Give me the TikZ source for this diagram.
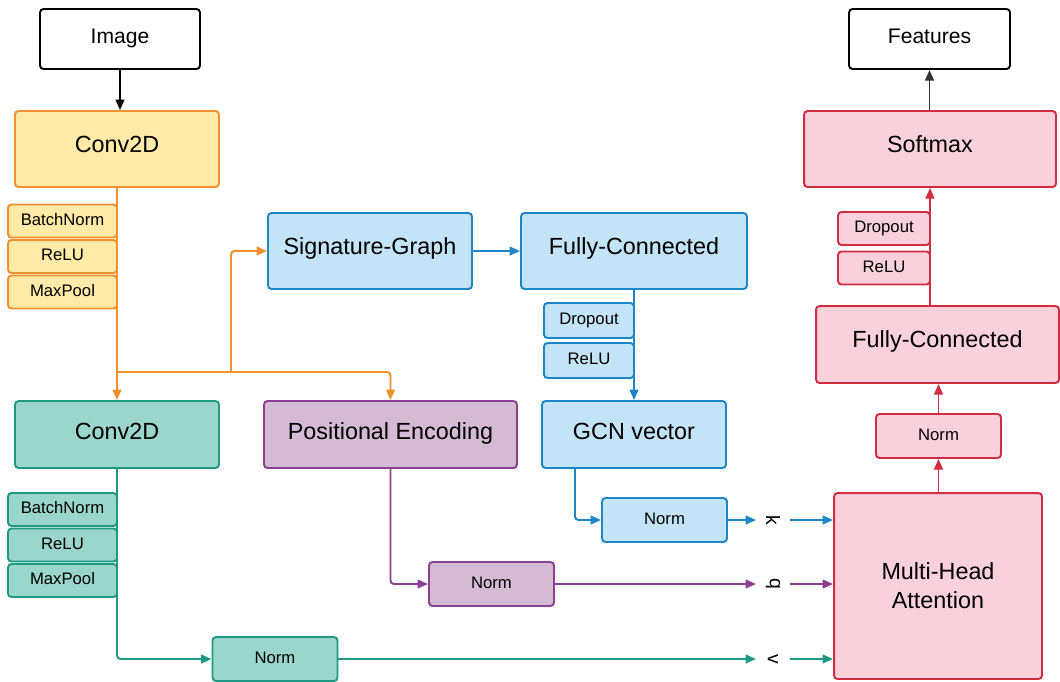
\documentclass[tikz,border=0pt]{standalone}
\usepackage{fontspec}
\setmainfont{Liberation Sans}
\usepackage{graphicx}
\usetikzlibrary{arrows.meta,positioning}

\definecolor{orangeline}{HTML}{F2902C}
\definecolor{yellowfill}{HTML}{FFEAA7}
\definecolor{tealline}{HTML}{1F9A82}
\definecolor{tealfill}{HTML}{9AD6CB}
\definecolor{blueline}{HTML}{1D86C6}
\definecolor{bluefill}{HTML}{C3E4F6}
\definecolor{purpleline}{HTML}{8C3E8F}
\definecolor{purplefill}{HTML}{D4BAD3}
\definecolor{redline}{HTML}{D12C42}
\definecolor{redfill}{HTML}{F8D1DC}

\begin{document}
\begin{tikzpicture}[x=0.02cm,y=-0.02cm,node distance=0.71cm,>={Triangle[length=6pt,width=5pt]},line width=1.1pt]
  \tikzstyle{block}=[rectangle,rounded corners=2pt,line width=1.1pt,inner sep=0pt,align=center,text height=0.72em,text depth=0.34em,font=\fontsize{13.3}{16.5}\selectfont]
  \tikzstyle{flat}=[text depth=0.14em]
  \tikzstyle{io}=[block,draw=black,fill=white,minimum height=1.2cm,text depth=0.26em,font=\fontsize{12}{14}\selectfont]
  \tikzstyle{layer}=[block,minimum width=2.18cm,minimum height=0.66cm,text depth=0.22em,font=\fontsize{9.5}{11}\selectfont]
  \tikzstyle{norm}=[layer,minimum width=2.5cm,minimum height=0.88cm]
  \tikzstyle{yel}=[draw=orangeline,fill=yellowfill]
  \tikzstyle{teal}=[draw=tealline,fill=tealfill]
  \tikzstyle{blu}=[draw=blueline,fill=bluefill]
  \tikzstyle{pur}=[draw=purpleline,fill=purplefill]
  \tikzstyle{red}=[draw=redline,fill=redfill]
  \tikzstyle{key}=[inner sep=0pt,minimum width=0.64cm,font=\fontsize{11}{13}\selectfont]

  \useasboundingbox (0,0) rectangle (1060,681);

  % input branch
  \node [io] (image) at (120,39) [minimum width=3.2cm] {Image};
  \node [block,yel] (conva) at (117,149) [minimum width=4.08cm,minimum height=1.52cm] {Conv2D};
  \node [layer,yel] (bna) at (62.5,221) {BatchNorm};
  \node [layer,yel] (relua) [below of=bna] {ReLU};
  \node [layer,yel] (poola) [below of=relua] {MaxPool};

  \node [block,flat,teal] (convb) at (117,434.5) [minimum width=4.08cm,minimum height=1.34cm] {Conv2D};
  \node [layer,teal] (bnb) at (62.5,509.5) {BatchNorm};
  \node [layer,teal] (relub) [below of=bnb] {ReLU};
  \node [layer,teal] (poolb) [below of=relub] {MaxPool};
  \node [norm,teal] (normv) at (275,659) {Norm};

  \node [block,flat,pur] (pe) at (390.5,434.5) [minimum width=5.06cm,minimum height=1.34cm] {Positional Encoding};
  \node [norm,pur] (normq) at (491.5,584) {Norm};

  % graph branch
  \node [block,blu] (sig) at (370,251) [minimum width=4.08cm,minimum height=1.52cm] {Signature-Graph};
  \node [block,blu] (fcb) at (634,251) [minimum width=4.52cm,minimum height=1.52cm] {Fully-Connected};
  \node [layer,blu] (dropb) at (589,320.5) [minimum width=1.8cm,minimum height=0.7cm] {Dropout};
  \node [layer,blu] (relubl) [below of=dropb,node distance=0.8cm,minimum width=1.8cm,minimum height=0.7cm] {ReLU};
  \node [block,flat,blu] (gcn) at (634,434.5) [minimum width=3.68cm,minimum height=1.34cm] {GCN vector};
  \node [norm,blu] (normk) at (664.5,520) {Norm};

  % attention head
  \node [block,red,text height=,text depth=] (mha) at (938,586) [minimum width=4.16cm,minimum height=3.72cm] {Multi-Head\\Attention};
  \node [norm,red] (normr) at (938.5,436) {Norm};
  \node [block,red] (fcr) at (937.5,344.5) [minimum width=4.86cm,minimum height=1.54cm] {Fully-Connected};
  \node [layer,red] (dropr) at (884,228.5) [minimum width=1.84cm] {Dropout};
  \node [layer,red] (relur) [below of=dropr,node distance=0.79cm,minimum width=1.84cm] {ReLU};
  \node [block,red] (soft) at (930,149) [minimum width=5.04cm,minimum height=1.52cm] {Softmax};
  \node [io] (feat) at (929.5,39) [minimum width=3.22cm] {Features};

  \node [key] (k) at (773,520) {\rotatebox{-90}{k}};
  \node [key] (q) at (773,584) {\rotatebox{-90}{q}};
  \node [key] (v) at (773,659) {\rotatebox{-90}{v}};

  \coordinate (split) at (117,372);
  \coordinate (splitb) at (231,372);

  % connectors
  \draw [->,black] (image.south) -- (image.south |- conva.north);
  \draw [->,orangeline] (conva.south) -- (convb.north);
  \draw [->,orangeline,rounded corners=2pt] (split) -| (pe.north);
  \draw [->,orangeline,rounded corners=2pt] (splitb) |- (sig.west);

  \draw [->,blueline] (sig) -- (fcb);
  \draw [->,blueline] (fcb.south) -- (gcn.north);
  \draw [->,blueline,rounded corners=2pt] ([xshift=-1.18cm]gcn.south) |- (normk.west);
  \draw [->,blueline] (normk.east) -- (k.west);
  \draw [->,blueline] (k.east) -- (k.east -| mha.west);

  \draw [->,purpleline,rounded corners=2pt] (pe.south) |- (normq.west);
  \draw [->,purpleline] (normq.east) -- (q.west);
  \draw [->,purpleline] (q.east) -- (q.east -| mha.west);

  \draw [->,tealline,rounded corners=2pt] (convb.south) |- (normv.west);
  \draw [->,tealline] (normv.east) -- (v.west);
  \draw [->,tealline] (v.east) -- (v.east -| mha.west);

  \draw [->,redline] (mha.north -| normr.south) -- (normr.south);
  \draw [->,redline] (normr.north) -- (normr.north |- fcr.south);
  \draw [->,redline] (fcr.north -| soft.south) -- (soft.south);
  \draw [->,black!80] (soft.north -| feat.south) -- (feat.south);
\end{tikzpicture}
\end{document}
